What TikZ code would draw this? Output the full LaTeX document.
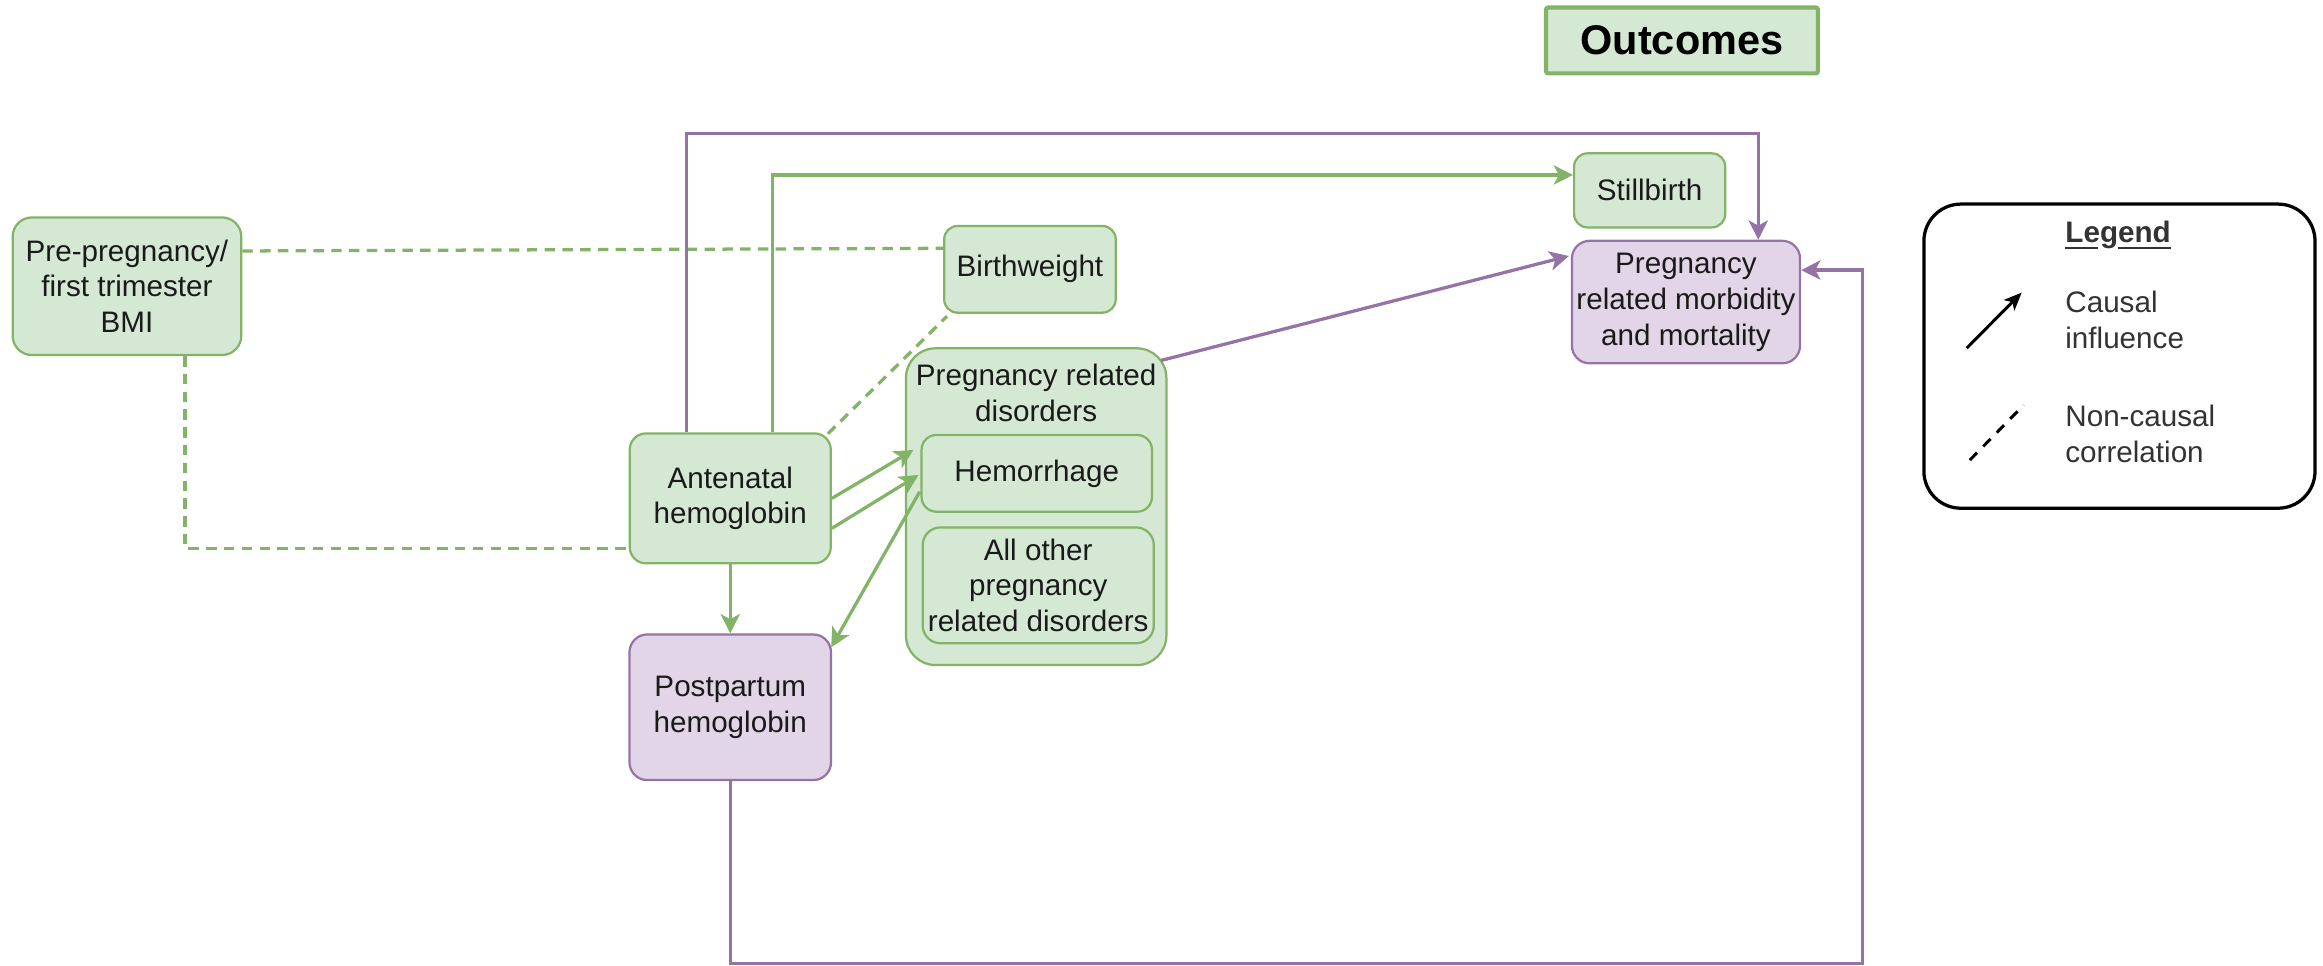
\documentclass[tikz,border=0pt]{standalone}
\usepackage{fontspec}
\setmainfont{Liberation Sans}
\usetikzlibrary{arrows.meta,calc}
\definecolor{gfill}{HTML}{D5E8D4}
\definecolor{gline}{HTML}{82B366}
\definecolor{pfill}{HTML}{E1D5E7}
\definecolor{pline}{HTML}{9673A6}
\definecolor{ink}{HTML}{1A1A1A}
\definecolor{legink}{HTML}{333333}

\begin{document}
\begin{tikzpicture}[x=1pt,y=-1pt,
  font=\fontsize{20}{24.2}\selectfont,
  box/.style={rectangle, draw, line width=1.5pt, inner sep=0pt, align=center, text=ink},
  gbox/.style={box, fill=gfill, draw=gline},
  pbox/.style={box, fill=pfill, draw=pline},
  tipc/.tip={Stealth[length=13pt,width=13pt,inset=3.5pt]},
  gconn/.style={draw=gline, line width=2.2pt, -tipc},
  pconn/.style={draw=pline, line width=2.2pt, -tipc},
  gdash/.style={draw=gline, line width=2.2pt, dash pattern=on 7pt off 5pt},
]
\useasboundingbox (0,0) rectangle (1568,652);

% title
\node[gbox, line width=2.8pt, rounded corners=1.5pt, minimum width=183.5pt, minimum height=44.5pt,
      font=\fontsize{28}{32}\selectfont\bfseries, text=black] (outc) at (1135.3,27.3) {Outcomes};

% exposures and mediators
\node[gbox, rounded corners=13pt, minimum width=154.3pt, minimum height=92.9pt] (bmi) at (85.7,193.2)
  {Pre-pregnancy/\\first trimester\\BMI};
\node[gbox, rounded corners=11pt, minimum width=135.7pt, minimum height=87.7pt] (ante) at (492.9,336.4)
  {Antenatal\\hemoglobin};
\node[pbox, rounded corners=12pt, minimum width=136pt, minimum height=98.3pt] (post) at (492.9,477.4)
  {Postpartum\\hemoglobin};

% pregnancy related disorders group
\node[gbox, rounded corners=20pt, minimum width=175.8pt, minimum height=213.8pt] (cont) at (699.4,342) {};
\node[text=ink, align=center, inner sep=0pt] (conttitle) at (699.4,265) {Pregnancy related\\disorders};
\node[gbox, rounded corners=10pt, minimum width=155.5pt, minimum height=51.8pt] (hem) at (699.8,319.5)
  {Hemorrhage};
\node[gbox, rounded corners=12pt, minimum width=156pt, minimum height=78.2pt] (other) at (700.8,395.1)
  {All other\\pregnancy\\related disorders};

% outcomes
\node[gbox, rounded corners=9pt, minimum width=115.8pt, minimum height=58.5pt] (birth) at (695.2,181.8)
  {Birthweight};
\node[gbox, rounded corners=9pt, minimum width=102pt, minimum height=50pt] (still) at (1113.5,128.5)
  {Stillbirth};
\node[pbox, rounded corners=12pt, minimum width=154pt, minimum height=82.7pt] (morb) at (1138,203.9)
  {Pregnancy\\related morbidity\\and mortality};

% legend
\node[rectangle, draw=black, line width=2.2pt, rounded corners=25pt, minimum width=264pt,
      minimum height=205.3pt, inner sep=0pt] (leg) at (1430.6,240.4) {};
\node[anchor=base, font=\fontsize{20}{24.2}\selectfont\bfseries, text=legink, inner sep=0pt]
  (legtitle) at (1429.7,164) {Legend};
\draw[legink, line width=1.6pt] ($(legtitle.base west)+(0,3.6)$) -- ++(22.5,0);
\draw[legink, line width=1.6pt] ($(legtitle.base west)+(36,3.6)$) -- ($(legtitle.base east)+(0,3.6)$);
\coordinate (la1) at (1327.5,235);
\coordinate (la2) at (1364.6,197.5);
\coordinate (ld1) at (1327.5,312.7);
\coordinate (ld2) at (1366,273.4);
\draw[black, line width=2pt, -{Stealth[length=12pt,width=10pt,inset=3pt]}] (la1) -- (la2);
\draw[black, line width=2pt, dash pattern=on 7pt off 6pt, dash phase=10pt] (ld1) -- (ld2);
\node[anchor=west, align=left, text=legink, inner sep=0pt] (lcausal) at (1393.9,215.7) {Causal\\influence};
\node[anchor=west, align=left, text=legink, inner sep=0pt] (lnon) at (1393.9,292.9) {Non-causal\\correlation};

% routing points
\coordinate (ptopL) at (463.5,90);
\coordinate (ptopR) at (1186.8,90);
\coordinate (gtop) at (521.4,118.1);
\coordinate (dcorner) at (124.8,370);
\coordinate (pbot) at (1256.9,650.2);

% non-causal correlations
\draw[gdash] ([yshift=23.8pt]bmi.east) -- ([yshift=14.2pt]birth.west);
\draw[gdash] (bmi.south -| dcorner) -- (dcorner) -- (ante.west |- dcorner);
\draw[gdash] ([xshift=-2.7pt,yshift=-1pt]ante.north east) -- ([xshift=2.7pt,yshift=-1.6pt]birth.south west);

% causal influences
\draw[pconn] (ante.north -| ptopL) -- (ptopL) -- (ptopR) -- (morb.north -| ptopR);
\draw[gconn] (ante.north -| gtop) -- (gtop) -- (still.west |- gtop);
\draw[gconn] (ante.east) -- ([xshift=-4.7pt,yshift=15.8pt]hem.west);
\draw[gconn] ([yshift=-20.2pt]ante.east) -- ([xshift=-1.3pt,yshift=-1.1pt]hem.west);
\draw[gconn] ([xshift=-0.5pt,yshift=-12.4pt]hem.west) -- ([xshift=-0.6pt,yshift=-9.4pt]post.north east);
\draw[gconn] (ante.south) -- (post.north);
\draw[pconn] ([xshift=-4.5pt,yshift=-9pt]cont.north east) -- ([xshift=-1.3pt,yshift=31.1pt]morb.west);
\draw[pconn] (post.south) |- (pbot) |- ([yshift=21.6pt]morb.east);
\end{tikzpicture}
\end{document}
